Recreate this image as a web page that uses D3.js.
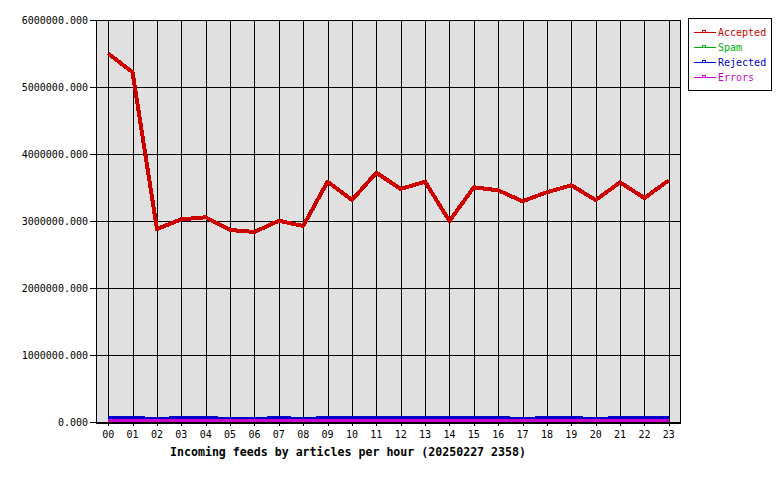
<!DOCTYPE html>
<html>
<head>
<meta charset="utf-8">
<script src="https://cdn.jsdelivr.net/npm/d3@7"></script>
<style>
  html, body { margin: 0; padding: 0; background: #ffffff; }
  svg { display: block; }
  text { font-family: "DejaVu Sans Mono", "Liberation Mono", monospace; }
</style>
</head>
<body>
<svg id="chart" width="780" height="480"></svg>
<script>
// ---- Data ----
const hours = ["00","01","02","03","04","05","06","07","08","09","10","11",
               "12","13","14","15","16","17","18","19","20","21","22","23"];
const accepted = [5500000, 5220000, 2880000, 3025000, 3055000, 2866000, 2836000, 3004000,
                  2925000, 3587000, 3313000, 3720000, 3478000, 3587000, 3000000, 3503000,
                  3458000, 3294000, 3430000, 3533000, 3313000, 3577000, 3343000, 3607000];
const spam =     [0,0,0,0,0,0,0,0,0,0,0,0,0,0,0,0,0,0,0,0,0,0,0,0];
const rejected = [67000, 67000, 52000, 67000, 67000, 52000, 52000, 67000,
                  52000, 67000, 67000, 67000, 67000, 67000, 67000, 67000,
                  67000, 52000, 67000, 67000, 52000, 67000, 67000, 67000];
const errors =   [16000,16000,16000,16000,16000,16000,16000,16000,16000,16000,16000,16000,
                  16000,16000,16000,16000,16000,16000,16000,16000,16000,16000,16000,16000];
const seriesNames = ["Accepted", "Spam", "Rejected", "Errors"];
const seriesColors = ["#cc0000", "#00b000", "#0000cc", "#cc00cc"];
const seriesWidths = [4, 3, 3, 3];
const yTicks = [0, 1000000, 2000000, 3000000, 4000000, 5000000, 6000000];
const title = "Incoming feeds by articles per hour (20250227 2358)";

// ---- Layout ----
const pL = 96, pR = 681, pT = 20, pB = 422;
const svg = d3.select("#chart");

const x = d3.scalePoint().domain(hours).range([pL, pR]).padding(0.5);
const y = d3.scaleLinear().domain([0, 6000000]).range([pB, pT]);

// plot background
svg.append("rect")
  .attr("x", pL).attr("y", pT)
  .attr("width", pR - pL).attr("height", pB - pT)
  .attr("fill", "#e0e0e0");

const crisp = v => Math.round(v) + 0.5;

// horizontal grid + left ticks
svg.append("g").selectAll("line").data(yTicks).join("line")
  .attr("x1", pL - 6).attr("x2", pR)
  .attr("y1", d => crisp(y(d))).attr("y2", d => crisp(y(d)))
  .attr("stroke", "#000").attr("stroke-width", 1)
  .attr("shape-rendering", "crispEdges");

// vertical grid + bottom ticks
svg.append("g").selectAll("line").data(hours).join("line")
  .attr("x1", d => crisp(x(d))).attr("x2", d => crisp(x(d)))
  .attr("y1", pT).attr("y2", pB + 4)
  .attr("stroke", "#000").attr("stroke-width", 1)
  .attr("shape-rendering", "crispEdges");

// series lines
const seriesData = [accepted, spam, rejected, errors];
const line = d3.line().x((d, i) => x(hours[i])).y(d => y(d));
seriesData.forEach((vals, si) => {
  svg.append("path")
    .datum(vals)
    .attr("d", line)
    .attr("fill", "none")
    .attr("stroke", seriesColors[si])
    .attr("stroke-width", seriesWidths[si])
    .attr("stroke-linejoin", "round")
    .attr("shape-rendering", "crispEdges");
});

// frame
svg.append("rect")
  .attr("x", pL + 0.5).attr("y", pT + 0.5)
  .attr("width", pR - pL - 1).attr("height", pB - pT)
  .attr("fill", "none").attr("stroke", "#000").attr("stroke-width", 1)
  .attr("shape-rendering", "crispEdges");
svg.append("line")
  .attr("x1", pL).attr("x2", pR)
  .attr("y1", crisp(pB)).attr("y2", crisp(pB))
  .attr("stroke", "#000").attr("stroke-width", 2)
  .attr("shape-rendering", "crispEdges");

// y labels
const fmt = d3.format(".3f");
svg.append("g").selectAll("text").data(yTicks).join("text")
  .attr("x", 88).attr("y", d => y(d) + 0.5)
  .attr("text-anchor", "end")
  .attr("dominant-baseline", "central")
  .attr("font-size", "10px")
  .attr("fill", "#000")
  .text(d => fmt(d));

// x labels
svg.append("g").selectAll("text").data(hours).join("text")
  .attr("x", d => x(d)).attr("y", 434)
  .attr("text-anchor", "middle")
  .attr("dominant-baseline", "central")
  .attr("font-size", "10px")
  .attr("fill", "#000")
  .text(d => d);

// title
svg.append("text")
  .attr("x", 348).attr("y", 452)
  .attr("text-anchor", "middle")
  .attr("dominant-baseline", "central")
  .attr("font-size", "11.6px")
  .attr("font-weight", "bold")
  .attr("fill", "#000")
  .text(title);

// legend
const lg = svg.append("g");
lg.append("rect")
  .attr("x", 688.5).attr("y", 18.5).attr("width", 83).attr("height", 72)
  .attr("fill", "#fff").attr("stroke", "#000").attr("stroke-width", 1)
  .attr("shape-rendering", "crispEdges");
seriesNames.forEach((name, i) => {
  const cy = 32.5 + i * 15;
  lg.append("line")
    .attr("x1", 694).attr("x2", 716)
    .attr("y1", cy).attr("y2", cy)
    .attr("stroke", seriesColors[i]).attr("stroke-width", 1)
    .attr("shape-rendering", "crispEdges");
  lg.append("rect")
    .attr("x", 702.5).attr("y", cy - 2)
    .attr("width", 3).attr("height", 2)
    .attr("fill", "none").attr("stroke", seriesColors[i]).attr("stroke-width", 1)
    .attr("shape-rendering", "crispEdges");
  lg.append("text")
    .attr("x", 718).attr("y", cy)
    .attr("dominant-baseline", "central")
    .attr("font-size", "10px")
    .attr("fill", seriesColors[i])
    .text(name);
});
</script>
</body>
</html>
